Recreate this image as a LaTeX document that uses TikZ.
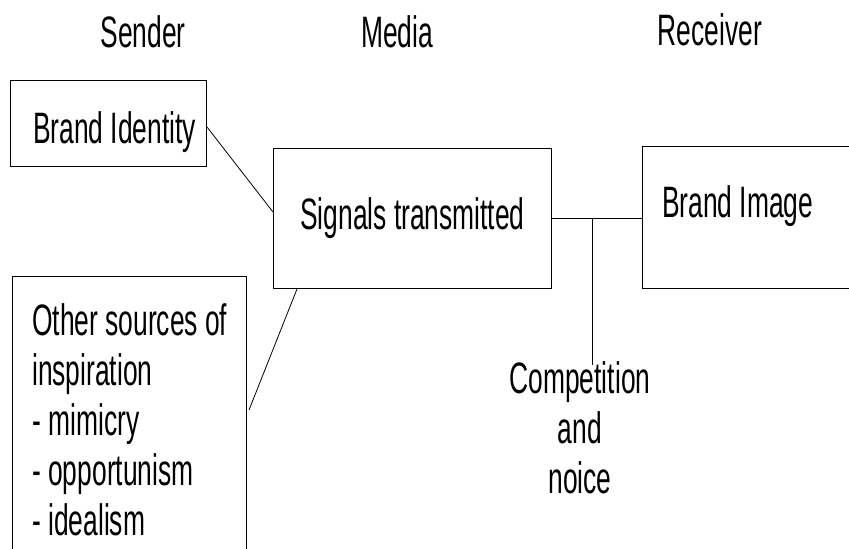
\documentclass[tikz,border=0pt]{standalone}
\usepackage{fontspec}
\setmainfont{Liberation Sans}[FakeStretch=0.6]
\begin{document}
\begin{tikzpicture}[x=1pt,y=-1pt,
  box/.style={draw=black,line width=1pt,rectangle,inner sep=0pt,anchor=north west},
  txt/.style={inner sep=0pt,font=\fontsize{44}{50}\selectfont},
  link/.style={draw=black,line width=0.8pt},
  bar/.style={draw=black,line width=1pt}]
\useasboundingbox (0,0) rectangle (849,549);
\clip (0,0) rectangle (849,549);
% headings
\node[txt,anchor=base] (sender) at (143,47) {Sender};
\node[txt,anchor=base] (media) at (397,47) {Media};
\node[txt,anchor=base] (receiver) at (710,45) {Receiver};
% boxes
\node[box,minimum width=196pt,minimum height=86pt] (bi) at (10,80) {};
\node[box,minimum width=278pt,minimum height=140pt] (sig) at (273,148) {};
\node[box,minimum width=260pt,minimum height=142pt] (img) at (642,146) {};
\node[box,minimum width=234pt,minimum height=320pt] (oth) at (12,276) {};
% texts
\node[txt,anchor=base west] (bitxt) at (33,143) {Brand Identity};
\node[txt,anchor=base west] (sigtxt) at (300,229) {Signals transmitted};
\node[txt,anchor=base west] (imgtxt) at (662,217) {Brand Image};
\node[txt,anchor=base west,align=left] (othtxt) at (32,535) {Other sources of\\inspiration\\- mimicry\\- opportunism\\- idealism};
\node[txt,anchor=base,align=center] (comp) at (580,493) {Competition\\and\\noice};
% connectors
\draw[link] (bi.east |- 0,127) -- (sig.west |- 0,212);
\draw[link] (oth.east |- 0,410) ++(2,0) -- (sig.south -| 297,0);
\draw[bar] (sig.east |- 0,218) -- (img.west |- 0,218);
\coordinate (jn) at (592,218);
\coordinate (jb) at (592,365);
\draw[bar] (jn) -- (jb);
\end{tikzpicture}
\end{document}
